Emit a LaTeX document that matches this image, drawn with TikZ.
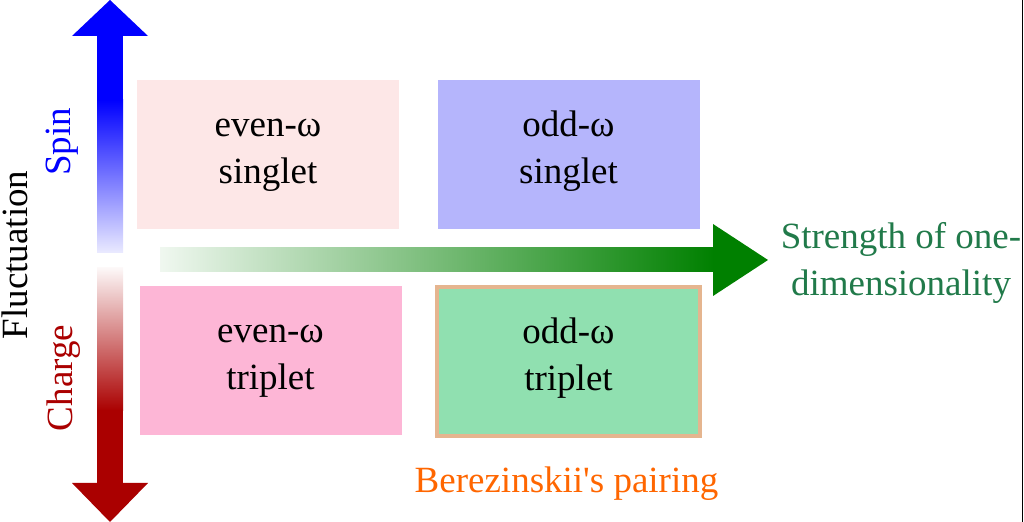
\documentclass[tikz,border=0pt]{standalone}
\usepackage{fontspec}
\setmainfont{Liberation Serif}
\definecolor{spinblue}{HTML}{0000FF}
\definecolor{chargered}{HTML}{AA0000}
\definecolor{dimgreen}{HTML}{008000}
\definecolor{textgreen}{HTML}{217A4A}
\definecolor{pairorange}{HTML}{FF6600}
\definecolor{esfill}{HTML}{FDE7E7}
\definecolor{osfill}{HTML}{B5B5FC}
\definecolor{etfill}{HTML}{FDB6D6}
\definecolor{otfill}{HTML}{90E0B0}
\definecolor{otborder}{HTML}{E5B58F}
\newcommand{\phasetext}[2]{\begin{tabular}[t]{@{}c@{}}#1\\#2\end{tabular}}
\tikzstyle{axistext}=[inner sep=0pt, font=\fontsize{18.5}{23.5}\selectfont]
\tikzstyle{phase}=[axistext, text height=13pt, text depth=30.5pt, minimum width=131pt, minimum height=74.5pt]
\tikzstyle{esphase}=[phase, fill=esfill]
\tikzstyle{osphase}=[phase, fill=osfill]
\tikzstyle{etphase}=[phase, fill=etfill]
\tikzstyle{otphase}=[phase, fill=otfill, draw=otborder, line width=2pt, minimum width=131.5pt]
\begin{document}
\begin{tikzpicture}[x=0.5pt, y=-0.5pt]
        \useasboundingbox (0, 0) rectangle (1024, 522);
        \fill[spinblue] (97, 35) rectangle (123, 101);
        \shade[top color=spinblue, bottom color=spinblue!8] (97, 100) rectangle (123, 253);
        \fill[spinblue] (72, 36) -- (110, 0) -- (148, 36) -- cycle;
        \shade[top color=chargered!3, bottom color=chargered] (97, 268) rectangle (123, 411);
        \fill[chargered] (97, 410) rectangle (123, 484);
        \fill[chargered] (72, 483) -- (110, 522) -- (148, 483) -- cycle;
        \shade[left color=dimgreen!6, right color=dimgreen] (160, 248) rectangle (714, 272);
        \fill[dimgreen] (713, 224) -- (768, 260) -- (713, 296) -- cycle;
        \node[esphase] (ES) at (268, 154.5) {\phasetext{even-ω}{singlet}};
        \node[osphase] (OS) at (568.5, 154.5) {\phasetext{odd-ω}{singlet}};
        \node[etphase] (ET) at (270.5, 360.5) {\phasetext{even-ω}{triplet}};
        \node[otphase] (OT) at (568.5, 361.5) {\phasetext{odd-ω}{triplet}};
        \node[axistext, rotate=90] (Fluct) at (14.5, 255) {Fluctuation};
        \node[axistext, rotate=90, text=spinblue] (Spin) at (62, 142) {Spin};
        \node[axistext, rotate=90, text=chargered] (Charge) at (64, 378) {Charge};
        \node[axistext, align=center, text=textgreen] (Dim) at (901, 263) {Strength of one-\\dimensionality};
        \node[axistext, text=pairorange] (Ber) at (566.5, 483.5) {Berezinskii\textquotesingle s pairing};
        \draw[line width=0.6pt] (1022.5, 0) -- (1022.5, 522);
    \end{tikzpicture}
\end{document}
